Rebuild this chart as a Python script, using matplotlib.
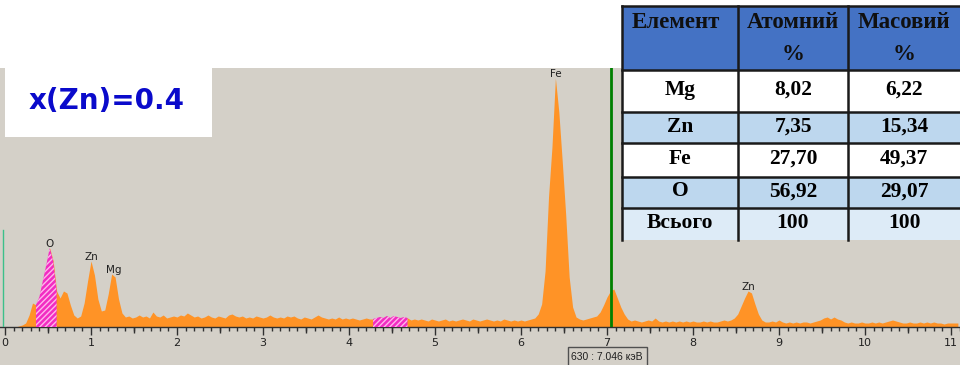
import numpy as np
import matplotlib
matplotlib.use('Agg')
import matplotlib.pyplot as plt
from matplotlib.patches import Rectangle
from matplotlib.ticker import MultipleLocator

# ---------------- data ----------------
energy_step_kev = 0.04
# counts per channel (0.04 keV grid), one row per keV
counts = [
    0, 0, 0, 0, 1, 2, 4, 12, 24, 22, 30, 46, 62, 79, 66, 36, 29, 36, 34, 22, 12, 9, 11, 24, 46,          # 0.00-0.96
    66, 52, 28, 16, 17, 33, 53, 50, 28, 14, 10, 11, 9, 10, 12, 10, 11, 9, 15, 11, 10, 12, 9, 10, 11,     # 1.00-1.96
    10, 12, 11, 14, 12, 10, 11, 9, 10, 12, 10, 9, 11, 10, 9, 12, 13, 11, 10, 11, 9, 10, 9, 11, 10,       # 2.00-2.96
    9, 10, 12, 10, 9, 10, 9, 11, 10, 11, 9, 8, 10, 9, 8, 10, 12, 10, 9, 8, 9, 8, 10, 8, 9,              # 3.00-3.96
    8, 9, 8, 7, 8, 9, 8, 8, 9, 10, 9, 11, 9, 11, 10, 9, 10, 9, 7, 8, 7, 8, 7, 6, 8,                     # 4.00-4.96
    7, 6, 7, 8, 6, 7, 6, 7, 8, 7, 6, 8, 7, 6, 7, 8, 7, 6, 7, 6, 8, 7, 6, 7, 6,                          # 5.00-5.96
    7, 6, 7, 8, 9, 13, 23, 56, 130, 180, 249, 215, 165, 112, 50, 20, 10, 8, 7, 8, 9, 10, 11, 15, 22,    # 6.00-6.96
    30, 36, 38, 29, 20, 13, 8, 6, 7, 6, 5, 6, 7, 6, 9, 6, 5, 6, 5, 6, 5, 6, 5, 6, 5,                    # 7.00-7.96
    6, 5, 5, 6, 5, 6, 5, 5, 6, 7, 6, 7, 9, 13, 21, 29, 36, 34, 23, 13, 7, 5, 5, 6, 5,                   # 8.00-8.96
    7, 5, 4, 5, 4, 5, 4, 5, 5, 4, 5, 6, 7, 9, 10, 8, 10, 8, 7, 5, 4, 5, 4, 4, 5,                        # 9.00-9.96
    4, 4, 5, 4, 5, 4, 5, 6, 7, 6, 5, 4, 4, 5, 4, 4, 5, 4, 5, 4, 5, 4, 4, 3, 4,                          # 10.00-10.96
    4, 4, 4,                                                                                            # 11.00-11.08
]

roi_start = [0.36, 4.28]   # hatched regions of interest (keV)
roi_end = [0.60, 4.68]

peak_labels = ['O', 'Zn', 'Mg', 'Fe', 'Zn']
peak_energy = [0.52, 1.00, 1.26, 6.40, 8.64]

cursor_channel = 630
cursor_energy = 7.046
marker_energy = -0.025
marker_height = 97

x_ticks = list(range(0, 12))

composition_label = 'x(Zn)=0.4'
table_header = ['Елемент', 'Атомний\n%', 'Масовий\n%']
elements = ['Mg', 'Zn', 'Fe', 'O', 'Всього']
atomic_pct = ['8,02', '7,35', '27,70', '56,92', '100']
mass_pct = ['6,22', '15,34', '49,37', '29,07', '100']

# ---------------- figure ----------------
plt.rcParams['hatch.linewidth'] = 1.0
W, H = 960, 365
fig = plt.figure(figsize=(W / 100, H / 100), dpi=100, facecolor='white')

panel_top = 68
base = 327
px_per_kev = 86.0
x0_px = 5.0

def fy(py):
    return 1 - py / H

fig.patches.append(Rectangle((0, 0), 1, fy(panel_top), transform=fig.transFigure,
                             facecolor='#D4D0C8', edgecolor='none', zorder=-5))

ax = fig.add_axes([0, fy(base), 1, (base - panel_top) / H], zorder=2)
ax.set_facecolor('none')
ax.set_xlim(-x0_px / px_per_kev, (W - x0_px) / px_per_kev)
ax.set_ylim(0, base - panel_top)

energy = np.arange(len(counts)) * energy_step_kev
c = np.array(counts, dtype=float)

ax.fill_between(energy, c, color='#FF9326', lw=0, zorder=2)
for lo, hi in zip(roi_start, roi_end):
    m = (energy >= lo - 1e-9) & (energy <= hi + 1e-9)
    ax.fill_between(energy[m], c[m], facecolor='#F22CC2', edgecolor='#FFB6EC',
                    hatch='//////', lw=0, zorder=3)

for lab, e in zip(peak_labels, peak_energy):
    m = np.abs(energy - e) <= 0.045
    ax.text(e, c[m].max() + 1, lab, ha='center', va='baseline', fontsize=7.5,
            color='#202020', zorder=5)

ax.axvline(cursor_energy, color='#008000', lw=2, zorder=4)
ax.plot([marker_energy, marker_energy], [0, marker_height], color='#3CC08A', lw=1, zorder=4)

ax.set_xticks(x_ticks)
ax.set_xticklabels([str(t) for t in x_ticks])
ax.xaxis.set_minor_locator(MultipleLocator(0.1))
ax.tick_params(axis='x', which='major', length=6, width=1, color='#303030',
               labelsize=8, labelcolor='#202020', pad=2)
ax.tick_params(axis='x', which='minor', length=3, width=1, color='#303030')
ax.set_yticks([])
for s in ['top', 'left', 'right']:
    ax.spines[s].set_visible(False)
ax.spines['bottom'].set_color('#303030')
ax.spines['bottom'].set_linewidth(1)

half = [t + 0.5 for t in x_ticks[:-1]]
sec = ax.secondary_xaxis('bottom')
sec.set_xticks(half, labels=[''] * len(half))
sec.tick_params(length=4.5, width=1, color='#303030')
sec.spines['bottom'].set_visible(False)

# ---------------- overlay (pixel coords) ----------------
ov = fig.add_axes([0, 0, 1, 1], zorder=10)
ov.set_xlim(0, W)
ov.set_ylim(H, 0)
ov.axis('off')
ov.patch.set_alpha(0)

# composition label box
ov.add_patch(Rectangle((5, panel_top), 207, 69, facecolor='white', edgecolor='none'))
ov.text(107, 101, composition_label, ha='center', va='center', fontsize=20,
        fontweight='bold', color='#0A0ACB', family='DejaVu Sans')

# cursor readout
ov.add_patch(Rectangle((568, 347), 79, 20, facecolor='#D4D0C8', edgecolor='#505050', lw=1))
ov.text(607, 356.5, f'{cursor_channel} : {cursor_energy:.3f} кэВ', ha='center', va='center',
        fontsize=7.5, color='#202020', family='Liberation Sans')

# table
col_x = [622, 738, 848, 962]
row_y = [6, 70, 112, 143, 177, 208, 240]
row_colors = ['#4472C4', 'white', '#BDD7EE', 'white', '#BDD7EE', '#DDEBF7']
for i, col in enumerate(row_colors):
    ov.add_patch(Rectangle((col_x[0], row_y[i]), col_x[-1] - col_x[0], row_y[i + 1] - row_y[i],
                           facecolor=col, edgecolor='none'))
for yy in row_y[:-1]:
    ov.plot([col_x[0], col_x[-1]], [yy, yy], color='#1A1A1A', lw=1.8)
for xx in col_x[:-1]:
    ov.plot([xx, xx], [row_y[0], row_y[-1]], color='#1A1A1A', lw=1.8)

tfont = dict(family='Liberation Serif', fontweight='bold', fontsize=15.5, color='black')
hfont = dict(tfont, fontsize=16.5, color='#101010')
centers = [(col_x[j] + col_x[j + 1]) / 2 for j in range(3)]
centers[2] = (col_x[2] + 960) / 2
for j, htxt in enumerate(table_header):
    lines = htxt.split('\n')
    ov.text(centers[j] - (4 if j == 0 else 0), 22, lines[0], ha='center', va='center', **hfont)
    if len(lines) > 1:
        ov.text(centers[j], 54, lines[1], ha='center', va='center', **hfont)
for i in range(len(elements)):
    yc = (row_y[i + 1] + row_y[i + 2]) / 2 - 1
    for j, val in enumerate([elements[i], atomic_pct[i], mass_pct[i]]):
        ov.text(centers[j], yc, val, ha='center', va='center', **tfont)

fig.savefig('out.png', dpi=100, facecolor='white')
